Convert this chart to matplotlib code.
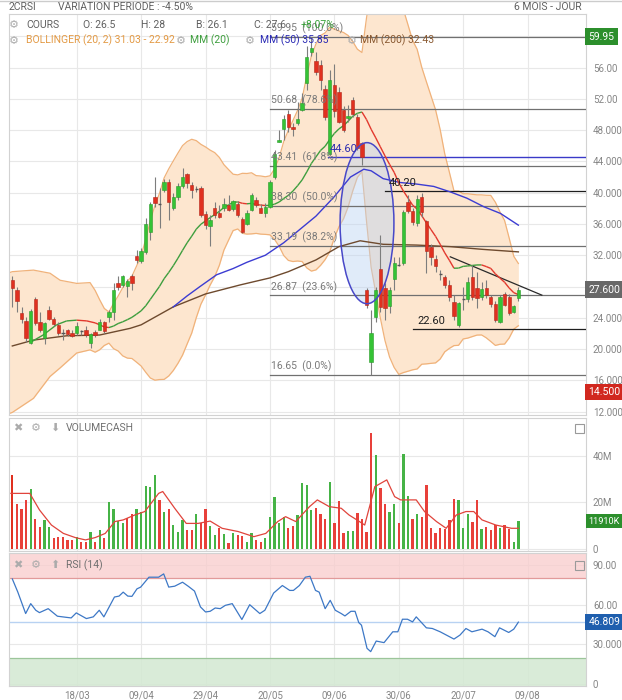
import numpy as np
import pandas as pd
import matplotlib
matplotlib.use("Agg")
import matplotlib.pyplot as plt
from matplotlib.patches import Ellipse, Rectangle
from matplotlib.collections import LineCollection

plt.rcParams['font.family'] = ['Roboto', 'DejaVu Sans']

FIG_W, FIG_H = 622, 700

# x axis (one slot per trading day)
date_labels = ['18/03', '09/04', '29/04', '20/05', '09/06', '30/06', '20/07', '09/08']
date_pos = [14, 28, 42, 56, 70, 84, 98, 112]

# daily candles
opens = [28.8, 27.5, 24.6, 23.6, 20.8, 26.4, 23.5, 21.4, 25.0, 23.85,
         23.1, 22.1, 22.4, 22.1, 22.1, 22.25, 22.4, 20.8, 22.2, 22.5,
         23.4, 24.1, 24.7, 28.5, 28.2, 28.1, 29.3, 31.9, 31.3, 32.46,
         35.0, 39.5, 38.6, 40.35, 41.4, 38.0, 39.5, 40.8, 42.4, 41.0,
         40.5, 40.6, 37.3, 35.7, 38.0, 37.4, 38.0, 38.4, 37.9, 38.6,
         36.6, 36.0, 37.8, 39.1, 38.0, 37.4, 38.2, 42.0, 46.5, 48.2,
         50.1, 48.45, 48.9, 50.6, 54.0, 57.95, 56.88, 56.3, 53.3, 45.0,
         53.8, 52.9, 50.6, 49.5, 51.9, 49.7, 46.3, 27.56, 18.4, 24.15,
         30.3, 27.8, 25.5, 28.9, 30.8, 30.96, 38.85, 37.7, 36.1, 39.4,
         36.4, 33.1, 31.5, 29.6, 29.2, 28.2, 26.06, 23.08, 26.4, 26.36,
         29.26, 27.8, 26.6, 27.8, 26.6, 25.8, 23.5, 27.1, 26.7, 24.78,
         26.5]
highs = [29.3, 28.0, 25.4, 24.1, 25.1, 26.7, 24.8, 23.5, 25.5, 24.1,
         23.5, 22.6, 22.6, 22.4, 23.5, 22.5, 22.9, 22.1, 22.4, 23.9,
         23.6, 25.0, 28.4, 29.3, 29.5, 29.0, 29.6, 32.7, 32.9, 36.7,
         38.85, 42.05, 40.56, 41.8, 41.7, 39.9, 41.2, 43.1, 42.5, 41.4,
         40.8, 40.8, 37.6, 37.2, 38.8, 38.4, 39.3, 39.7, 39.1, 38.9,
         36.9, 37.8, 40.0, 39.5, 38.6, 38.7, 41.6, 45.5, 48.0, 49.9,
         50.6, 48.9, 51.6, 52.7, 58.8, 59.95, 58.03, 56.97, 53.8, 55.7,
         56.5, 53.55, 51.1, 51.2, 52.2, 50.1, 46.5, 27.77, 25.0, 28.0,
         34.6, 28.5, 28.0, 31.8, 31.8, 37.8, 39.7, 38.0, 39.7, 39.9,
         36.5, 33.5, 32.0, 30.1, 29.5, 28.8, 26.9, 26.06, 27.98, 29.26,
         30.75, 29.9, 28.6, 28.8, 26.9, 26.1, 26.9, 27.3, 27.1, 25.6,
         28.0]
lows = [25.4, 24.8, 23.3, 20.9, 20.7, 23.1, 22.2, 20.7, 23.7, 22.9,
        21.8, 21.2, 21.7, 21.6, 21.8, 21.8, 21.6, 20.1, 21.6, 22.4,
        22.0, 23.5, 23.7, 27.6, 28.0, 26.7, 27.6, 31.0, 31.0, 32.2,
        33.9, 38.2, 35.44, 40.1, 36.5, 37.8, 39.1, 40.6, 40.6, 39.3,
        40.1, 36.9, 35.4, 33.2, 36.7, 36.7, 37.6, 37.6, 37.7, 36.9,
        34.9, 35.9, 37.6, 38.2, 37.4, 36.9, 38.0, 41.8, 46.5, 46.7,
        47.8, 47.2, 48.7, 50.4, 53.1, 57.5, 55.0, 53.1, 49.3, 44.8,
        49.7, 48.9, 47.8, 49.1, 49.7, 45.4, 43.55, 25.2, 16.65, 23.5,
        24.8, 23.7, 24.6, 27.6, 30.6, 30.75, 37.36, 35.9, 35.7, 36.9,
        29.7, 30.8, 29.9, 28.8, 27.8, 26.1, 23.7, 22.86, 25.0, 26.06,
        26.27, 25.2, 26.3, 26.5, 25.4, 23.5, 23.3, 25.5, 24.35, 24.57,
        26.1]
closes = [27.8, 26.2, 23.8, 21.4, 24.9, 23.3, 22.4, 23.3, 23.9, 23.2,
          22.1, 22.0, 21.9, 21.7, 22.9, 22.2, 21.8, 21.9, 21.85, 23.5,
          22.3, 24.7, 27.6, 27.9, 29.35, 28.7, 28.4, 31.4, 32.5, 36.0,
          38.55, 38.65, 38.5, 41.41, 38.85, 39.5, 40.8, 42.0, 41.3, 40.4,
          40.4, 37.15, 35.9, 36.5, 37.1, 36.9, 38.6, 37.8, 38.9, 37.15,
          35.0, 37.4, 39.7, 38.4, 37.45, 38.2, 41.4, 45.0, 46.8, 49.4,
          48.45, 48.2, 49.4, 51.5, 57.4, 58.46, 55.47, 54.4, 49.7, 54.4,
          50.4, 49.1, 48.0, 49.8, 50.1, 45.7, 44.6, 25.64, 22.0, 27.56,
          25.4, 25.3, 27.55, 31.0, 30.7, 37.5, 37.6, 36.3, 39.2, 37.5,
          32.5, 31.8, 30.6, 29.5, 28.2, 26.7, 24.23, 25.93, 26.5, 28.62,
          26.7, 26.5, 27.7, 26.9, 25.8, 23.7, 26.7, 25.6, 24.55, 25.5,
          27.6]

# volume cash, millions
volumes = [31.8, 19.2, 17.2, 20.9, 25.8, 12.9, 9.6, 12.5, 9.6, 4.9,
           5.2, 5.2, 3.7, 3.7, 5.3, 3.2, 3.2, 7.5, 2.9, 8.2,
           4.9, 20.1, 17.2, 12.0, 11.0, 13.2, 14.9, 17.2, 15.8, 27.2,
           26.8, 31.8, 21.1, 16.1, 17.2, 10.3, 7.5, 12.5, 8.2, 8.2,
           14.9, 11.0, 17.2, 10.0, 6.0, 8.9, 6.3, 2.4, 6.7, 6.0,
           5.7, 3.2, 6.7, 3.9, 2.9, 4.6, 13.9, 22.5, 11.0, 13.9,
           8.9, 10.0, 14.6, 28.3, 27.5, 16.8, 17.8, 14.9, 12.9, 29.0,
           11.0, 20.7, 6.7, 7.7, 7.7, 15.3, 12.9, 7.5, 49.8, 40.4,
           26.1, 19.2, 16.1, 19.2, 11.0, 40.7, 22.9, 12.9, 14.9, 13.9,
           27.5, 9.2, 6.7, 9.2, 8.6, 12.5, 21.5, 21.1, 8.9, 14.9,
           11.8, 21.1, 8.6, 9.6, 8.2, 10.3, 9.2, 10.3, 8.6, 3.2,
           11.91]

# volume moving average (red line), read at these day positions
vma_x = [-0.3, 3.8, 5.9, 8.5, 11.1, 13.7, 15.9, 18, 20.2, 22.3,
         24.1, 26.6, 28.8, 31.8, 32.7, 35.3, 37.8, 40.4, 43, 45.6,
         49.1, 52.5, 55.1, 57.7, 59.4, 61.6, 64.6, 66.3, 68.9, 71.5,
         73.2, 74.9, 76.6, 78.8, 81.4, 83.1, 84.4, 87.8, 89.6, 92.2,
         94.3, 96.5, 98.6, 100.3, 102.1, 105.1, 108.5, 110]
vma_y = [23.9, 23.9, 16.8, 10.3, 6.7, 4.9, 3.9, 4.9, 6.7, 11.8,
         12.5, 14.6, 16.1, 23.9, 24.7, 17.5, 11.0, 11.0, 12.0, 8.9,
         7.5, 5.3, 6.7, 11.8, 13.9, 11.8, 18.2, 21.1, 18.2, 17.5,
         14.6, 12.5, 10.3, 26.8, 29.7, 22.5, 21.1, 21.1, 16.1, 11.8,
         8.9, 14.6, 16.1, 16.1, 12.5, 10.3, 8.9, 8.9]

# RSI(14)
rsi_x = [0, 1.2, 2.9, 4, 5.1, 5.9, 7.8, 9.8, 11.6, 12.8,
         13.9, 16.1, 17.6, 18.9, 19.9, 22.2, 23.2, 24.1, 25.1, 26,
         27.1, 27.9, 29.7, 31.8, 32.9, 34, 35.3, 37, 38.3, 39.6,
         40.9, 42, 43, 44.1, 45.2, 46.3, 47.8, 49.9, 51.6, 53.8,
         54.9, 56.8, 58.7, 60.3, 61.1, 62.4, 63.7, 64.7, 65.9, 66.7,
         68, 69.1, 70.2, 71.5, 72.3, 73.6, 74.5, 75.3, 75.9, 77.1,
         77.9, 79.1, 80.8, 82.7, 83.8, 84.8, 85.9, 87, 87.8, 90,
         91.3, 93, 96, 97.3, 98.6, 99.9, 102.1, 103.4, 104.9, 105.9,
         107.9, 109, 110]
rsi_y = [79.5, 69.5, 53.3, 60.8, 55.8, 54, 57, 51.3, 50.5, 50,
         53.8, 49.5, 50.8, 55.8, 50.8, 65.8, 66.5, 69.5, 66.5, 66.3,
         72, 73.3, 80.8, 80.8, 83.3, 73.3, 74, 77, 73.8, 70.3,
         58.3, 54.5, 55, 57.5, 57, 59.5, 60.8, 48.8, 60, 53.3,
         55.8, 68.8, 74.5, 70.8, 70.8, 74.5, 80.8, 81.5, 70.8, 69.5,
         57, 63.3, 55.8, 53.3, 51.5, 55, 55, 46.5, 44.5, 27,
         24.5, 32.5, 31.3, 39.5, 39.5, 49, 49, 47, 50.8, 42.5,
         42, 39.5, 34, 37, 42, 39.5, 41.5, 39.5, 35.8, 42.5,
         39, 41.5, 46.8]
rsi_last = 46.809

# MM(50) and MM(200)
mm50_x = [35, 38, 40.8, 44.4, 48, 51, 55, 59, 62.5, 66, 70, 73.5, 76.4, 78,
          80.6, 84.3, 87.9, 91.6, 95.2, 98.8, 102.5, 106.1, 110]
mm50_y = [25.4, 26.8, 28.0, 29.5, 30.3, 31.1, 32.0, 33.6, 35.3, 37.0, 39.5, 42.0, 43.0, 42.8,
          41.8, 41.3, 41.1, 40.8, 40.1, 39.3, 38.2, 37.35, 35.85]
mm200_x = [0, 4.6, 11.8, 19, 25.6, 28, 35, 42, 49.5, 56, 60, 66, 71, 75.6,
           80.6, 87.9, 95.2, 102.3, 110]
mm200_y = [20.4, 21.15, 21.7, 21.8, 22.65, 23.1, 25.4, 27.05, 28.2, 29.1, 29.9, 31.4, 33.1, 33.85,
           33.4, 33.3, 33.1, 32.75, 32.43]

# first days of MM(20) / Bollinger(20, 2), before 20 closes are on screen
head_x = [-1, 0, 4.6, 8.2, 10.4, 14, 16.9, 18]
boll_up_head = [29.7, 29.9, 30.1, 29.7, 28.8, 28.4, 28.5, 27.5]
boll_lo_head = [11.7, 11.9, 13.7, 16.5, 17.6, 19.5, 19.9, 19.6]
mm20_head_x = [4.2, 6.7, 9.6, 11.8, 14, 16.2, 18]
mm20_head_y = [20.95, 21.8, 23.1, 23.6, 23.7, 23.6, 23.35]

# drawn levels
fib_levels = [59.95, 50.68, 43.41, 38.30, 33.19, 26.87, 16.65]
fib_pcts = ['100.0%', '78.6%', '61.8%', '50.0%', '38.2%', '23.6%', '0.0%']
fib_start = 56
support_levels = [40.20, 22.60]
support_start = [81, 87.2]
blue_level = 44.60
blue_start = 68.7
trend_x = [95.2, 115.1]
trend_y = [31.8, 26.9]
ellipse_center = (77.1, 36.1)
ellipse_size = (11.7, 20.6)

n = len(closes)
days = np.arange(n)
close_s = pd.Series(closes)
mid = close_s.rolling(20).mean()
sd = close_s.rolling(20).std(ddof=0)

up_x = np.r_[head_x, days[19:]]
up_y = np.r_[boll_up_head, (mid + 2 * sd).values[19:]]
lo_y = np.r_[boll_lo_head, (mid - 2 * sd).values[19:]]
mm20_x = np.r_[mm20_head_x, days[19:]]
mm20_y = np.r_[mm20_head_y, mid.values[19:]]

XMIN, XMAX = -0.72, 124.7
GREEN, RED = '#35c335', '#e0301f'
GRID = '#e8e8e8'
LABEL = '#858585'


def fig_box(top, bottom, left=9, right=586):
    return [left / FIG_W, 1 - bottom / FIG_H, (right - left) / FIG_W, (bottom - top) / FIG_H]


def fx(px):
    return px / FIG_W


def fy(py):
    return 1 - py / FIG_H


fig = plt.figure(figsize=(FIG_W / 100, FIG_H / 100), dpi=100)
ax = fig.add_axes(fig_box(14, 415))
axv = fig.add_axes(fig_box(418, 551), sharex=ax)
axr = fig.add_axes(fig_box(553, 686), sharex=ax)

for a in (ax, axv, axr):
    for s in a.spines.values():
        s.set_color('#d2d2d2')
        s.set_linewidth(0.8)
    a.yaxis.tick_right()
    a.tick_params(axis='both', length=0, labelsize=7, labelcolor=LABEL, pad=5)
    a.set_xticks(date_pos)
    a.grid(True, color=GRID, lw=0.8)
    a.set_axisbelow(True)
ax.tick_params(labelbottom=False)
axv.tick_params(labelbottom=False)
ax.set_xlim(XMIN, XMAX)

# ---------------- price panel ----------------
ax.set_ylim(11.57, 62.85)
pticks = list(range(12, 61, 4))
ax.set_yticks(pticks)
ax.set_yticklabels([('%.3f' % v if v < 50 else '%.2f' % v) if v < 60 else '' for v in pticks])

ax.fill_between(up_x, lo_y, up_y, color='#fde6cf', lw=0, zorder=1)
ax.plot(up_x, up_y, color='#f0b27a', lw=0.9, zorder=1.5)
ax.plot(up_x, lo_y, color='#f0b27a', lw=0.9, zorder=1.5)

ax.add_patch(Ellipse(ellipse_center, ellipse_size[0], ellipse_size[1], fc='#bcd4f2', alpha=0.45,
                     ec='none', zorder=2))
ax.add_patch(Ellipse(ellipse_center, ellipse_size[0], ellipse_size[1], fc='none',
                     ec='#4848c8', lw=1.1, zorder=6))

for lvl, pct in zip(fib_levels, fib_pcts):
    ax.plot([fib_start, XMAX], [lvl, lvl], color='#707070', lw=0.9, zorder=3)
    ax.annotate('%.2f  (%s)' % (lvl, pct), (fib_start, lvl), xytext=(1, 2), textcoords='offset points',
                fontsize=7.5, color='#7a7a7a', va='bottom', ha='left', zorder=7)
for lvl, x0 in zip(support_levels, support_start):
    ax.plot([x0, XMAX], [lvl, lvl], color='#1e1e1e', lw=0.9, zorder=3)
    ax.annotate('%.2f' % lvl, (x0, lvl), xytext=(3, 2), textcoords='offset points',
                fontsize=8, color='#1e1e1e', va='bottom', ha='left', zorder=7)
ax.plot([blue_start, XMAX], [blue_level, blue_level], color='#3a3ac8', lw=1.0, zorder=3)
ax.annotate('%.2f' % blue_level, (blue_start, blue_level), xytext=(1, 2), textcoords='offset points',
            fontsize=8, color='#2e2eb0', va='bottom', ha='left', zorder=7)
ax.plot(trend_x, trend_y, color='#2a2a2a', lw=0.9, zorder=3)

ax.plot(mm200_x, mm200_y, color='#6e4a2e', lw=1.0, zorder=4)
ax.plot(mm50_x, mm50_y, color='#3c3cd2', lw=1.0, zorder=4)
pts = np.column_stack([mm20_x, mm20_y])
segs = np.stack([pts[:-1], pts[1:]], axis=1)
seg_cols = ['#3e9e3e' if d >= 0 else '#e2392e' for d in np.diff(mm20_y)]
ax.add_collection(LineCollection(segs, colors=seg_cols, lw=1.0, zorder=4))

# candles
ax.vlines(days, lows, highs, color='#7d7d7d', lw=0.8, zorder=5)
for i in range(n):
    o, c = opens[i], closes[i]
    if abs(c - o) < 0.15:
        ax.hlines(o, i - 0.35, i + 0.35, color='#555555', lw=1.0, zorder=5.5)
        continue
    up = c > o
    ax.bar(i, abs(c - o), bottom=min(o, c), width=0.72,
           color=GREEN if up else RED, edgecolor='#2b9a2b' if up else '#b3261a',
           lw=0.4, zorder=5.5)


def tag(a, y, text, color, size=7.5, pad=0.32):
    a.text(1.004, y, text, transform=a.get_yaxis_transform(), ha='left', va='center',
           fontsize=size, color='white', clip_on=False, zorder=10,
           bbox=dict(boxstyle='square,pad=%s' % pad, fc=color, ec='none'))


tag(ax, 59.95, '59.95', '#2c8f2c')
tag(ax, 27.6, '27.600', '#686868')
tag(ax, 14.5, '14.500', '#d1281f')

# ---------------- volume panel ----------------
vol_cols = [RED] + [('#46b346' if closes[i] >= closes[i - 1] else '#e8403a') for i in range(1, n)]
axv.bar(days, volumes, width=0.5, color=vol_cols, zorder=2)
axv.plot(vma_x, vma_y, color='#e0443c', lw=0.9, zorder=3)
axv.set_ylim(-0.86, 56.3)
axv.set_yticks([0, 20, 40])
axv.set_yticklabels(['0', '20M', '40M'])
tag(axv, 11.91, '11910K', '#2c8f2c', size=6.6, pad=0.25)

# ---------------- RSI panel ----------------
axr.set_ylim(-1.5, 99.1)
axr.axhspan(80, 100, color='#f9cccc', alpha=0.75, lw=0, zorder=1)
axr.axhspan(-2, 20, color='#d3e8d2', alpha=0.85, lw=0, zorder=1)
axr.axhline(80, color='#e29a9a', lw=0.9, zorder=1.5)
axr.axhline(20, color='#9cc59a', lw=0.9, zorder=1.5)
axr.axhline(rsi_last, color='#b8d2f2', lw=1.0, zorder=1.5)
axr.plot(rsi_x, rsi_y, color='#3d78c6', lw=0.9, zorder=3)
axr.set_yticks([0, 30, 60, 90])
axr.set_yticklabels(['0', '30.000', '60.00', '90.00'])
axr.set_xticks(date_pos)
axr.set_xticklabels(date_labels)
axr.tick_params(axis='x', pad=3)
tag(axr, rsi_last, '46.809', '#1f5fae')

# ---------------- header texts ----------------
hdr = dict(fontsize=7.5, color='#606060', va='center')
fig.text(fx(9), fy(7), '2CRSI', **hdr)
fig.text(fx(58), fy(7), 'VARIATION PERIODE : -4.50%', **hdr)
fig.text(fx(582), fy(7), '6 MOIS - JOUR', ha='right', fontsize=7.5, color='#606060', va='center')
fig.add_artist(plt.Line2D([0, 1], [fy(0.5), fy(0.5)], color='#cccccc', lw=1))

icon = dict(fontsize=8, color='#ababab', va='center')
row1 = fy(25)
fig.text(fx(9), row1, '\u2699', **icon)
fig.text(fx(26), row1, 'COURS', **hdr)
for xx, t in [(83, 'O: 26.5'), (141, 'H: 28'), (196, 'B: 26.1'), (254, 'C: 27.6')]:
    fig.text(fx(xx), row1, t, **hdr)
fig.text(fx(301), row1, '+8.07%', fontsize=7.5, color='#3aa23a', va='center')

row2 = fy(40.5)
fig.text(fx(9), row2, '\u2699', **icon)
fig.text(fx(26), row2, 'BOLLINGER (20, 2) 31.03 - 22.92', fontsize=7.5, color='#e39a45', va='center')
fig.text(fx(176), row2, '\u2699', **icon)
fig.text(fx(190), row2, 'MM (20)', fontsize=7.5, color='#3e9e3e', va='center')
fig.text(fx(245), row2, '\u2699', **icon)
fig.text(fx(260), row2, 'MM (50) 35.85', fontsize=7.5, color='#2a2ab4', va='center')
fig.text(fx(347), row2, '\u2699', **icon)
fig.text(fx(360), row2, 'MM (200) 32.43', fontsize=7.5, color='#8a5a32', va='center')

for ytop, name, arrow in [(428, 'VOLUMECASH', '\u2b07'), (565, 'RSI (14)', '\u2b06')]:
    fig.text(fx(13), fy(ytop), '\u2716', **icon)
    fig.text(fx(31), fy(ytop), '\u2699', **icon)
    fig.text(fx(50), fy(ytop), arrow, **icon)
    fig.text(fx(66), fy(ytop), name, fontsize=7.5, color='#707070', va='center')
    fig.patches.append(Rectangle((fx(575), fy(ytop + 4.5)), fx(9), 9 / FIG_H, transform=fig.transFigure,
                                 fill=False, ec='#9a9a9a', lw=0.8))

fig.savefig('out.png', dpi=100)
